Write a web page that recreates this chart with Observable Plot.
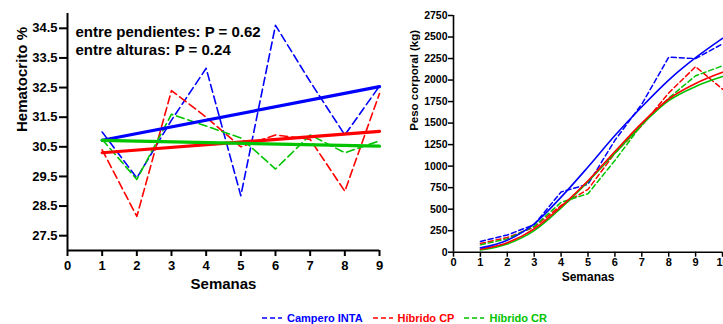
<!DOCTYPE html>
<html>
<head>
<meta charset="utf-8">
<script src="https://cdn.jsdelivr.net/npm/d3@7"></script>
<script src="https://cdn.jsdelivr.net/npm/@observablehq/plot@0.6"></script>
<style>
  html, body { margin: 0; padding: 0; background: #fff; }
  #wrap { position: relative; width: 723px; height: 324px; overflow: hidden; font-family: "Liberation Sans", Arial, sans-serif; }
  #left, #right { position: absolute; top: 0; }
  #left { left: 0; width: 390px; }
  #right { left: 390px; width: 345px; }
  #left svg, #right svg { max-width: none !important; }
  #legend { position: absolute; left: 262px; top: 311px; display: flex; align-items: center; font-weight: bold; font-size: 11px; line-height: 14px; white-space: nowrap; }
  #legend .item { display: flex; align-items: center; margin-right: 10px; }
  #legend svg { margin-right: 5px; }
</style>
</head>
<body>
<div id="wrap">
  <div id="left"></div>
  <div id="right"></div>
  <div id="legend"></div>
</div>
<script>
// ---------- data ----------
const seriesNames = ["Campero INTA", "Híbrido CP", "Híbrido CR"];
const seriesColors = ["#0000ff", "#ff0000", "#00c400"];

// Hematocrito (%), semanas 1-9
const weeksHem = [1, 2, 3, 4, 5, 6, 7, 8, 9];
const hemCampero = [31.0, 29.45, 31.4, 33.15, 28.85, 34.6, 32.7, 30.9, 32.55];
const hemCP      = [30.4, 28.15, 32.4, 31.5, 30.5, 30.9, 30.75, 29.0, 32.3];
const hemCR      = [30.75, 29.4, 31.6, 31.2, 30.8, 29.75, 30.9, 30.3, 30.7];
// regression lines (start at week 1, end at week 9)
const fitWeeks = [1, 9];
const fitCampero = [30.72, 32.53];
const fitCP      = [30.3, 31.02];
const fitCR      = [30.72, 30.52];
const hemXTicks = [0, 1, 2, 3, 4, 5, 6, 7, 8, 9];
const hemYTicks = [27.5, 28.5, 29.5, 30.5, 31.5, 32.5, 33.5, 34.5];
const notes = ["entre pendientes: P = 0.62", "entre alturas: P = 0.24"];

// Peso corporal (kg), semanas 1-10
const weeksPeso = [1, 2, 3, 4, 5, 6, 7, 8, 9, 10];
const pesoCamperoObs = [125, 200, 320, 700, 790, 1300, 1720, 2265, 2250, 2420];
const pesoCPObs      = [100, 170, 290, 545, 730, 1150, 1470, 1850, 2155, 1895];
const pesoCRObs      = [85, 155, 300, 580, 680, 1065, 1485, 1790, 2050, 2165];
const pesoCamperoFit = [50, 140, 330, 640, 990, 1355, 1690, 2000, 2260, 2485];
const pesoCPFit      = [35, 110, 270, 530, 830, 1170, 1500, 1780, 1960, 2090];
const pesoCRFit      = [25, 95, 250, 515, 820, 1150, 1480, 1760, 1925, 2040];
const pesoXTicks = [0, 1, 2, 3, 4, 5, 6, 7, 8, 9, 10];
const pesoYTicks = [0, 250, 500, 750, 1000, 1250, 1500, 1750, 2000, 2250, 2500, 2750];

// ---------- helpers ----------
const font = "'Liberation Sans', Arial, sans-serif";
function rows(xs, ys, name) { return xs.map((x, i) => ({x, y: ys[i], name})); }

const hemObs = [
  ...rows(weeksHem, hemCampero, seriesNames[0]),
  ...rows(weeksHem, hemCP, seriesNames[1]),
  ...rows(weeksHem, hemCR, seriesNames[2])
];
const hemFit = [
  ...rows(fitWeeks, fitCampero, seriesNames[0]),
  ...rows(fitWeeks, fitCP, seriesNames[1]),
  ...rows(fitWeeks, fitCR, seriesNames[2])
];
const pesoObs = [
  ...rows(weeksPeso, pesoCamperoObs, seriesNames[0]),
  ...rows(weeksPeso, pesoCPObs, seriesNames[1]),
  ...rows(weeksPeso, pesoCRObs, seriesNames[2])
];
const pesoFit = [
  ...rows(weeksPeso, pesoCRFit, seriesNames[2]),
  ...rows(weeksPeso, pesoCPFit, seriesNames[1]),
  ...rows(weeksPeso, pesoCamperoFit, seriesNames[0])
];
const colorScale = {domain: seriesNames, range: seriesColors};

// ---------- left chart ----------
const left = Plot.plot({
  width: 390, height: 300,
  marginLeft: 67, marginRight: 11, marginTop: 13, marginBottom: 50,
  style: {fontFamily: font, background: "white", overflow: "visible"},
  x: {domain: [0, 9]},
  y: {domain: [27, 35]},
  color: colorScale,
  marks: [
    Plot.line(hemObs, {x: "x", y: "y", z: "name", stroke: "name", strokeWidth: 1.6, strokeDasharray: "8,4"}),
    Plot.line(hemFit, {x: "x", y: "y", z: "name", stroke: "name", strokeWidth: 3.2}),
    Plot.ruleX([0], {stroke: "black", strokeWidth: 2}),
    Plot.ruleY([27], {stroke: "black", strokeWidth: 2}),
    Plot.axisX({ticks: hemXTicks, tickSize: 6, tickPadding: 4, strokeWidth: 2, fontSize: 13, fontWeight: "bold", label: null, tickFormat: d3.format("d")}),
    Plot.axisY({ticks: hemYTicks, tickSize: 8, tickPadding: 2, strokeWidth: 2, fontSize: 13, fontWeight: "bold", label: null, tickFormat: d3.format(".1f")}),
    Plot.text(["Semanas"], {frameAnchor: "bottom", dy: 38, fontSize: 15, fontWeight: "bold", fill: "black"}),
    Plot.text(["Hematocrito %"], {frameAnchor: "left", dx: -45, rotate: -90, fontSize: 15, fontWeight: "bold", fill: "black"}),
    Plot.text([notes[0]], {frameAnchor: "top-left", textAnchor: "start", dx: 8, dy: 13, fontSize: 15, fontWeight: "bold", fill: "black"}),
    Plot.text([notes[1]], {frameAnchor: "top-left", textAnchor: "start", dx: 8, dy: 30.5, fontSize: 15, fontWeight: "bold", fill: "black"})
  ]
});
document.getElementById("left").appendChild(left);

// ---------- right chart ----------
const right = Plot.plot({
  width: 345, height: 300,
  marginLeft: 63, marginRight: 13, marginTop: 15, marginBottom: 48.3,
  style: {fontFamily: font, background: "white", overflow: "visible"},
  x: {domain: [0, 10]},
  y: {domain: [0, 2750]},
  color: colorScale,
  marks: [
    Plot.line(pesoObs, {x: "x", y: "y", z: "name", stroke: "name", strokeWidth: 1.5, strokeDasharray: "5,3"}),
    Plot.line(pesoFit, {x: "x", y: "y", z: "name", stroke: "name", strokeWidth: 1.6, curve: "monotone-x"}),
    Plot.ruleX([0], {stroke: "black", strokeWidth: 1.6}),
    Plot.ruleY([0], {stroke: "black", strokeWidth: 1.6}),
    Plot.axisX({ticks: pesoXTicks, tickSize: 5, tickPadding: 1, strokeWidth: 1.5, fontSize: 11, fontWeight: "bold", label: null, tickFormat: d3.format("d")}),
    Plot.axisY({ticks: pesoYTicks, tickSize: 5, tickPadding: 1, strokeWidth: 1.5, fontSize: 10.5, fontWeight: "bold", label: null, tickFormat: d3.format("d")}),
    Plot.text(["Semanas"], {frameAnchor: "bottom", dy: 29, fontSize: 12, fontWeight: "bold", fill: "black"}),
    Plot.text(["Peso corporal (kg)"], {frameAnchor: "left", dx: -39, dy: -3, rotate: -90, fontSize: 11.5, fontWeight: "bold", fill: "black"})
  ]
});
document.getElementById("right").appendChild(right);

// ---------- legend ----------
const legend = document.getElementById("legend");
seriesNames.forEach((name, i) => {
  const item = document.createElement("div");
  item.className = "item";
  item.innerHTML = `<svg width="20" height="6"><line x1="0" x2="20" y1="3" y2="3" stroke="${seriesColors[i]}" stroke-width="1.6" stroke-dasharray="5,3"/></svg><span style="color:${seriesColors[i]}">${name}</span>`;
  legend.appendChild(item);
});
</script>
</body>
</html>
